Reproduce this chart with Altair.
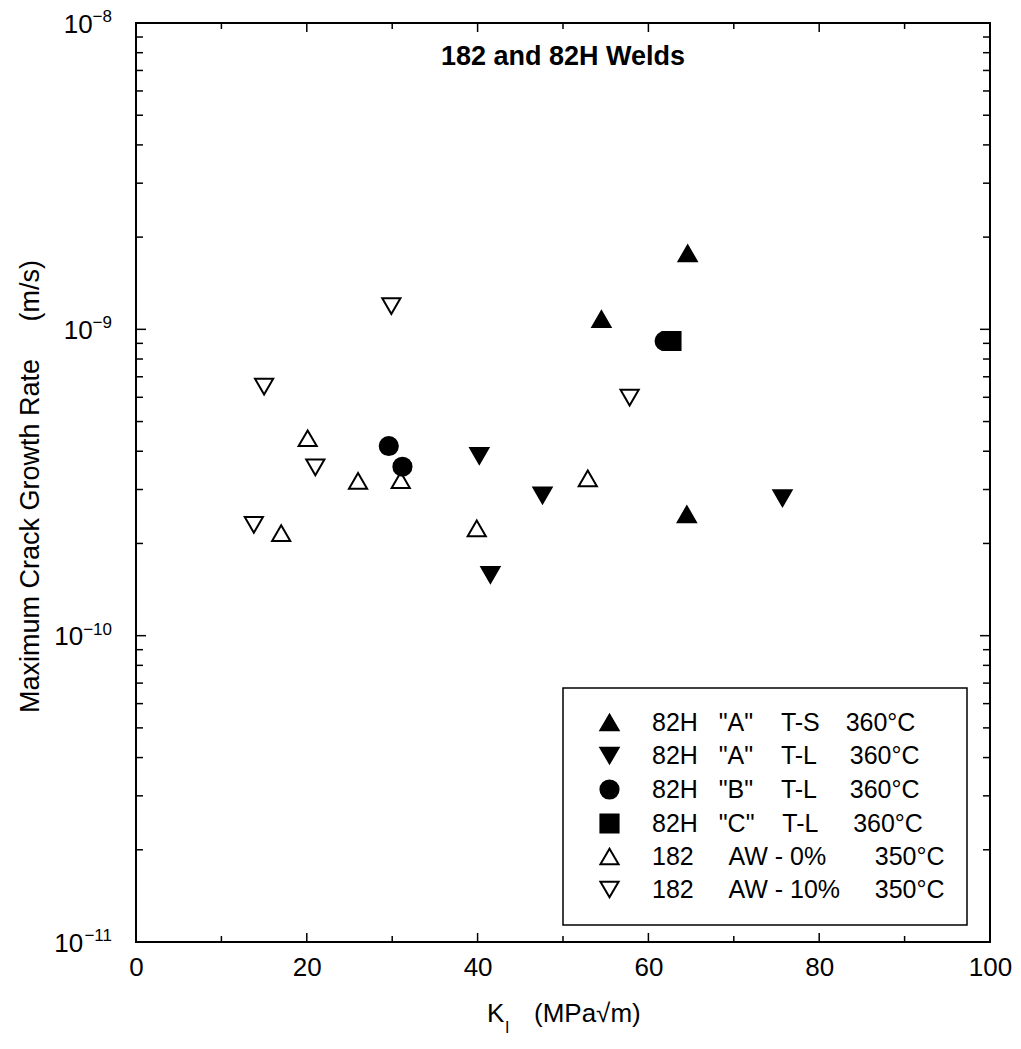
import altair as alt
import pandas as pd

NB = "\u00a0"
TH = "\u2009"

# ---------------- data (K in MPa*sqrt(m), rate in m/s) ----------------
ts_A_K = [64.6, 54.5, 64.5]
ts_A_rate = [1.77e-9, 1.08e-9, 2.49e-10]
tl_A_K = [40.2, 47.6, 41.5, 75.7]
tl_A_rate = [3.86e-10, 2.87e-10, 1.58e-10, 2.81e-10]
tl_B_K = [29.6, 31.2, 61.9]
tl_B_rate = [4.16e-10, 3.56e-10, 9.16e-10]
tl_C_K = [62.7]
tl_C_rate = [9.16e-10]
aw0_K = [20.1, 26.0, 31.0, 52.9, 17.0, 39.9]
aw0_rate = [4.41e-10, 3.20e-10, 3.22e-10, 3.26e-10, 2.16e-10, 2.24e-10]
aw10_K = [29.9, 15.0, 57.8, 21.0, 13.8]
aw10_rate = [1.19e-9, 6.50e-10, 5.98e-10, 3.54e-10, 2.30e-10]


def sp(n):
    return NB * n


series_labels = [
    "82H" + sp(3) + '"A"' + sp(4) + "T-S" + sp(3) + TH + "360°C",
    "82H" + sp(3) + '"A"' + sp(4) + "T-L" + sp(4) + TH + "360°C",
    "82H" + sp(3) + '"B"' + sp(4) + "T-L" + sp(4) + TH + "360°C",
    "82H" + sp(3) + '"C"' + sp(4) + "T-L" + sp(5) + "360°C",
    "182" + sp(5) + "AW" + NB + "-" + NB + "0%" + sp(7) + "350°C",
    "182" + sp(5) + "AW" + NB + "-" + NB + "10%" + sp(5) + "350°C",
]
series_shapes = ["triangle-up", "triangle-down", "circle", "square", "triangle-up", "triangle-down"]
series_fills = ["black", "black", "black", "black", "white", "white"]
series_strokes = ["black"] * 6
series_sizes = [330, 330, 380, 240, 360, 360]

x_tick_labels = [0, 20, 40, 60, 80, 100]
y_decades = [1e-11, 1e-10, 1e-9, 1e-8]
y_decade_base = ["10", "10", "10", "10"]
y_decade_exp = ["−11", "−10", "−9", "−8"]

title_text = "182 and 82H Welds"
y_title = "Maximum Crack Growth Rate" + sp(5) + "(m/s)"
x_title_main = "K"
x_title_sub = "I"
x_title_unit = "(MPa√m)"

FONT = "Liberation Sans"
PLOT_W, PLOT_H = 854, 919

# draw order: open symbols first, then square, then filled ones, circles last
groups = [
    (4, aw0_K, aw0_rate),
    (5, aw10_K, aw10_rate),
    (3, tl_C_K, tl_C_rate),
    (0, ts_A_K, ts_A_rate),
    (1, tl_A_K, tl_A_rate),
    (2, tl_B_K, tl_B_rate),
]
rows = []
for idx, ks, rs in groups:
    for k, r in zip(ks, rs):
        rows.append({"K": k, "rate": r, "series": series_labels[idx]})
df = pd.DataFrame(rows)

xscale = alt.Scale(domain=[0, 100], nice=False, zero=False)
yscale = alt.Scale(type="log", domain=[1e-11, 1e-8], nice=False)

x_axis = alt.Axis(
    values=x_tick_labels, ticks=False, domain=False, grid=False,
    labelPadding=12, labelFontSize=26, labelFont=FONT, labelColor="black",
    labelFlush=False, labelOverlap=False, title=None)
y_axis = alt.Axis(
    values=y_decades, ticks=False, domain=False, grid=False, labels=False,
    title=y_title, titleFont=FONT, titleFontSize=27, titleFontWeight="normal",
    titleColor="black", titleX=-106, titleY=463, titleBaseline="middle",
    titleAngle=-90)

points = alt.Chart(df).mark_point(
    filled=True, strokeWidth=2, opacity=1
).encode(
    x=alt.X("K:Q", scale=xscale, axis=x_axis),
    y=alt.Y("rate:Q", scale=yscale, axis=y_axis),
    shape=alt.Shape("series:N", scale=alt.Scale(domain=series_labels, range=series_shapes),
                    legend=alt.Legend(title=None)),
    fill=alt.Fill("series:N", scale=alt.Scale(domain=series_labels, range=series_fills),
                  legend=alt.Legend(title=None)),
    stroke=alt.Stroke("series:N", scale=alt.Scale(domain=series_labels, range=series_strokes),
                      legend=alt.Legend(title=None)),
    size=alt.Size("series:N", scale=alt.Scale(domain=series_labels, range=series_sizes),
                  legend=alt.Legend(title=None)),
)

# inward tick marks on all four sides
minor_y = [k * 10.0 ** e for e in (-11, -10, -9) for k in range(2, 10)]
major_y = [1e-10, 1e-9]
minor_x = [10, 30, 50, 70, 90]
major_x = [20, 40, 60, 80]


def yticks(vals, xpos, length, sign):
    d = pd.DataFrame({"K": [xpos] * len(vals), "rate": vals})
    return alt.Chart(d).mark_tick(
        orient="horizontal", size=length, thickness=1.5, color="black",
        xOffset=sign * length / 2, opacity=1
    ).encode(x=alt.X("K:Q", scale=xscale, axis=x_axis),
             y=alt.Y("rate:Q", scale=yscale, axis=y_axis))


def xticks(vals, ypos, length, sign):
    d = pd.DataFrame({"K": vals, "rate": [ypos] * len(vals)})
    return alt.Chart(d).mark_tick(
        orient="vertical", size=length, thickness=1.5, color="black",
        yOffset=sign * length / 2, opacity=1
    ).encode(x=alt.X("K:Q", scale=xscale, axis=x_axis),
             y=alt.Y("rate:Q", scale=yscale, axis=y_axis))


tick_layers = [
    yticks(minor_y, 0, 7, 1), yticks(major_y, 0, 10, 1),
    yticks(minor_y, 100, 7, -1), yticks(major_y, 100, 10, -1),
    xticks(minor_x, 1e-11, 6, -1), xticks(major_x, 1e-11, 9, -1),
    xticks(minor_x, 1e-8, 6, 1), xticks(major_x, 1e-8, 9, 1),
]

# y tick labels "10" with superscript exponent (right edge 24 px left of axis)
SUP_SIZE = 17
LAB_RIGHT = -24
dec_df = pd.DataFrame({"rate": y_decades, "base": y_decade_base, "exp": y_decade_exp})
sup_layer = alt.Chart(dec_df).mark_text(
    font=FONT, fontSize=SUP_SIZE, color="black", align="right", baseline="alphabetic", dy=-1
).encode(x=alt.value(LAB_RIGHT), y=alt.Y("rate:Q", scale=yscale, axis=y_axis), text="exp:N")


def base_layer(n_chars):
    sub = dec_df[dec_df["exp"].str.len() == n_chars]
    sup_w = SUP_SIZE * (0.584 + 0.556 * (n_chars - 1))
    return alt.Chart(sub).mark_text(
        font=FONT, fontSize=26, color="black", align="right", baseline="alphabetic", dy=9.5
    ).encode(x=alt.value(LAB_RIGHT - sup_w), y=alt.Y("rate:Q", scale=yscale, axis=y_axis),
             text="base:N")


ylabel_layers = [sup_layer, base_layer(2), base_layer(3)]


def text_layer(txt, size, px, py, weight="normal", align="left"):
    return alt.Chart(pd.DataFrame({"t": [txt]})).mark_text(
        font=FONT, fontSize=size, fontWeight=weight, color="black",
        align=align, baseline="alphabetic"
    ).encode(text="t:N", x=alt.value(px), y=alt.value(py))


title = text_layer(title_text, 27, PLOT_W / 2, 42, weight="bold", align="center")
xt_main = text_layer(x_title_main, 26, 351, 999)
xt_sub = text_layer(x_title_sub, 16, 369, 1010)
xt_unit = text_layer(x_title_unit, 26, 398, 999)

chart = alt.layer(
    points, *tick_layers, *ylabel_layers, title, xt_main, xt_sub, xt_unit
).properties(
    width=PLOT_W, height=PLOT_H,
    background="white",
    autosize=alt.AutoSizeParams(type="none"),
    padding={"left": 128, "top": 15, "right": 23, "bottom": 99},
).configure_view(
    stroke="black", strokeWidth=2
).configure_legend(
    orient="none", legendX=427, legendY=665,
    strokeColor="black", strokeWidth=1.5, fillColor="white",
    padding=22, labelFont=FONT, labelFontSize=25, labelColor="black",
    labelLimit=600, labelOffset=30, symbolOffset=12, rowPadding=7,
    symbolStrokeWidth=2, symbolOpacity=1,
)

chart.save("out.html", embed_options={"renderer": "svg", "actions": False})
